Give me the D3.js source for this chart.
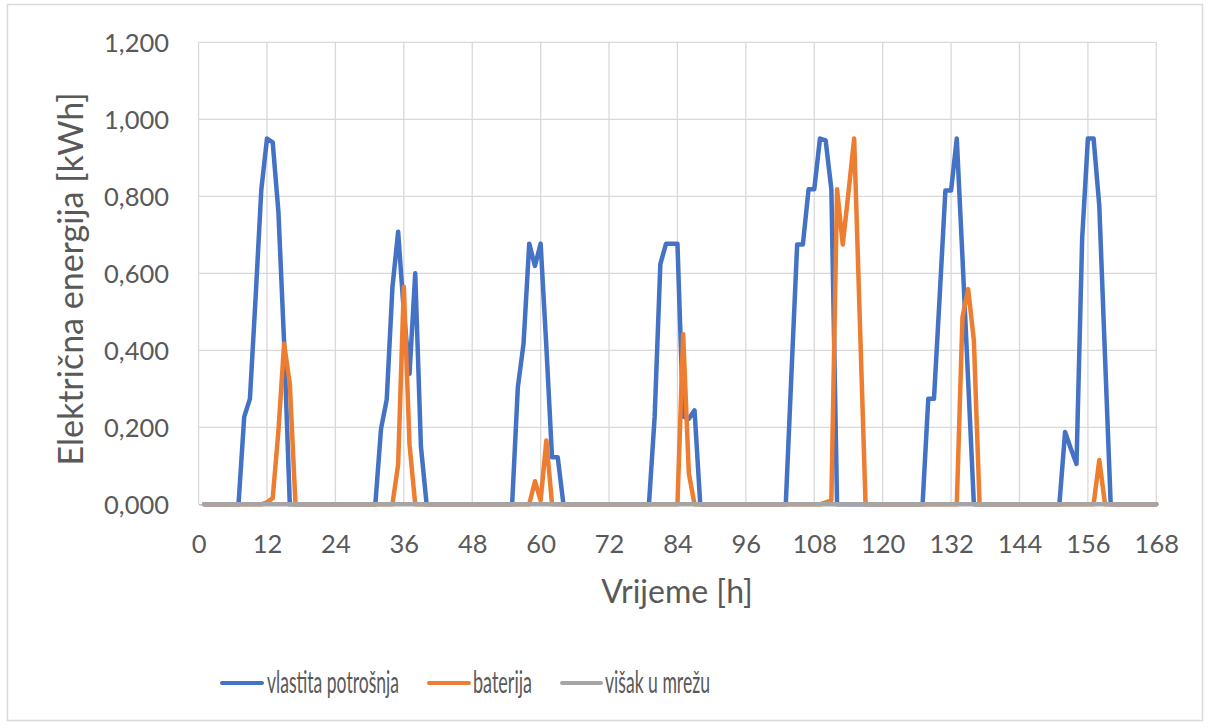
<!DOCTYPE html>
<html>
<head>
<meta charset="utf-8">
<script src="https://cdn.jsdelivr.net/npm/d3@7"></script>
<style>
  html, body { margin: 0; padding: 0; background: #ffffff; }
  svg { display: block; }
  text { font-family: Lato, "Open Sans", "Liberation Sans", sans-serif; fill: #595959; }
</style>
</head>
<body>
<svg id="chart" width="1210" height="727"></svg>
<script>
// Hours 1..168
const hours = [
  1,2,3,4,5,6,7,8,9,10,11,12,13,14,15,16,17,18,19,20,21,22,23,24,
  25,26,27,28,29,30,31,32,33,34,35,36,37,38,39,40,41,42,43,44,45,46,47,48,
  49,50,51,52,53,54,55,56,57,58,59,60,61,62,63,64,65,66,67,68,69,70,71,72,
  73,74,75,76,77,78,79,80,81,82,83,84,85,86,87,88,89,90,91,92,93,94,95,96,
  97,98,99,100,101,102,103,104,105,106,107,108,109,110,111,112,113,114,115,116,117,118,119,120,
  121,122,123,124,125,126,127,128,129,130,131,132,133,134,135,136,137,138,139,140,141,142,143,144,
  145,146,147,148,149,150,151,152,153,154,155,156,157,158,159,160,161,162,163,164,165,166,167,168
];

// "vlastita potrošnja" [kWh], one row per day (24 h)
const vlastitaPotrosnja = [
  0,0,0,0,0,0,0,0.227,0.274,0.537,0.817,0.950,0.940,0.760,0.420,0,0,0,0,0,0,0,0,0,
  0,0,0,0,0,0,0,0.196,0.272,0.563,0.708,0.500,0.339,0.600,0.150,0,0,0,0,0,0,0,0,0,
  0,0,0,0,0,0,0,0.304,0.417,0.677,0.619,0.677,0.410,0.122,0.122,0,0,0,0,0,0,0,0,0,
  0,0,0,0,0,0,0,0.227,0.624,0.677,0.677,0.677,0.228,0.222,0.244,0,0,0,0,0,0,0,0,0,
  0,0,0,0,0,0,0,0.340,0.675,0.675,0.818,0.818,0.950,0.945,0.818,0,0,0,0,0,0,0,0,0,
  0,0,0,0,0,0,0,0.274,0.274,0.540,0.815,0.815,0.950,0.640,0.320,0,0,0,0,0,0,0,0,0,
  0,0,0,0,0,0,0,0.188,0.145,0.105,0.692,0.950,0.950,0.775,0.385,0,0,0,0,0,0,0,0,0
];

// "baterija" [kWh]
const baterija = [
  0,0,0,0,0,0,0,0,0,0,0,0.005,0.016,0.190,0.417,0.313,0,0,0,0,0,0,0,0,
  0,0,0,0,0,0,0,0,0,0,0.103,0.565,0.155,0,0,0,0,0,0,0,0,0,0,0,
  0,0,0,0,0,0,0,0,0,0,0.060,0.010,0.166,0,0,0,0,0,0,0,0,0,0,0,
  0,0,0,0,0,0,0,0,0,0,0,0,0.442,0.080,0,0,0,0,0,0,0,0,0,0,
  0,0,0,0,0,0,0,0,0,0,0,0,0,0.005,0.010,0.818,0.675,0.810,0.950,0.475,0,0,0,0,
  0,0,0,0,0,0,0,0,0,0,0,0,0,0.486,0.559,0.425,0,0,0,0,0,0,0,0,
  0,0,0,0,0,0,0,0,0,0,0,0,0,0.115,0,0,0,0,0,0,0,0,0,0
];

// "višak u mrežu" [kWh]
const visakUMrezu = [
  0,0,0,0,0,0,0,0,0,0,0,0,0,0,0,0,0,0,0,0,0,0,0,0,
  0,0,0,0,0,0,0,0,0,0,0,0,0,0,0,0,0,0,0,0,0,0,0,0,
  0,0,0,0,0,0,0,0,0,0,0,0,0,0,0,0,0,0,0,0,0,0,0,0,
  0,0,0,0,0,0,0,0,0,0,0,0,0,0,0,0,0,0,0,0,0,0,0,0,
  0,0,0,0,0,0,0,0,0,0,0,0,0,0,0,0,0,0,0,0,0,0,0,0,
  0,0,0,0,0,0,0,0,0,0,0,0,0,0,0,0,0,0,0,0,0,0,0,0,
  0,0,0,0,0,0,0,0,0,0,0,0,0,0,0,0,0,0,0,0,0,0,0,0
];

const xTicks = [0, 12, 24, 36, 48, 60, 72, 84, 96, 108, 120, 132, 144, 156, 168];
const yTicks = [0, 0.2, 0.4, 0.6, 0.8, 1.0, 1.2];
const seriesNames = ["vlastita potrošnja", "baterija", "višak u mrežu"];
const seriesColors = ["#4472C4", "#ED7D31", "#A5A5A5"];
const xTitle = "Vrijeme [h]";
const yTitle = "Električna energija [kWh]";

const svg = d3.select("#chart");

// outer chart border
svg.append("rect")
  .attr("x", 7.5).attr("y", 4.5).attr("width", 1195).attr("height", 716)
  .attr("fill", "#fff").attr("stroke", "#D9D9D9").attr("stroke-width", 1.5);

const x = d3.scaleLinear().domain([0, 168]).range([198.6, 1156.3]);
const y = d3.scaleLinear().domain([0, 1.2]).range([504.3, 42.3]);

// gridlines
const grid = svg.append("g");
grid.selectAll("line.h").data(yTicks.filter(d => d > 0)).join("line")
  .attr("x1", x(0)).attr("x2", x(168))
  .attr("y1", d => y(d)).attr("y2", d => y(d))
  .attr("stroke", "#D9D9D9").attr("stroke-width", 1.3);
grid.selectAll("line.v").data(xTicks).join("line")
  .attr("y1", y(0)).attr("y2", y(1.2))
  .attr("x1", d => x(d)).attr("x2", d => x(d))
  .attr("stroke", "#D9D9D9").attr("stroke-width", 1.3);

// axes (labels only)
const yAxis = d3.axisLeft(y).tickValues(yTicks).tickSize(0).tickPadding(0)
  .tickFormat(d => d3.format(".3f")(d).replace(".", ","));
const gy = svg.append("g").attr("transform", "translate(169,0)").call(yAxis);
gy.select(".domain").remove();
gy.selectAll("text").attr("font-size", 25.5).attr("fill", "#595959")
  .attr("font-family", "Lato, 'Open Sans', sans-serif").attr("dy", "0.36em");

const xAxis = d3.axisBottom(x).tickValues(xTicks).tickSize(0).tickPadding(0);
const gx = svg.append("g").attr("transform", `translate(0,${y(0)})`).call(xAxis);
gx.select(".domain").attr("stroke", "#BFBFBF").attr("stroke-width", 1.5);
gx.selectAll("text").attr("font-size", 25.5).attr("fill", "#595959")
  .attr("font-family", "Lato, 'Open Sans', sans-serif").attr("dy", null).attr("y", 49);

// lines
const seriesData = [vlastitaPotrosnja, baterija, visakUMrezu];
const line = d3.line().x((d, i) => x(hours[i])).y(d => y(d));
seriesData.forEach((s, k) => {
  svg.append("path").datum(s)
    .attr("d", line)
    .attr("fill", "none")
    .attr("stroke", seriesColors[k])
    .attr("stroke-width", 4.5)
    .attr("stroke-linejoin", "round")
    .attr("stroke-linecap", "round");
});

// axis titles
svg.append("text").text(xTitle)
  .attr("x", 677).attr("y", 603).attr("text-anchor", "middle")
  .attr("font-size", 32);
svg.append("text").text(yTitle)
  .attr("transform", "translate(83,279) rotate(-90)")
  .attr("text-anchor", "middle").attr("font-size", 34);

// legend (text is condensed horizontally, as in the reference)
const legendPos = [
  { lx1: 222, lx2: 262, tx: 267, tw: 132 },
  { lx1: 429, lx2: 469, tx: 473, tw: 59 },
  { lx1: 562, lx2: 601, tx: 605, tw: 105 }
];
const lg = svg.append("g");
seriesNames.forEach((name, k) => {
  const p = legendPos[k];
  lg.append("line").attr("x1", p.lx1).attr("x2", p.lx2).attr("y1", 683).attr("y2", 683)
    .attr("stroke", seriesColors[k]).attr("stroke-width", 4).attr("stroke-linecap", "round");
  const t = lg.append("text").text(name).attr("x", 0).attr("y", 0).attr("font-size", 30);
  const natural = t.node().getComputedTextLength();
  const sx = p.tw / natural;
  t.attr("transform", `translate(${p.tx},693) scale(${sx},1)`);
});
</script>
</body>
</html>
